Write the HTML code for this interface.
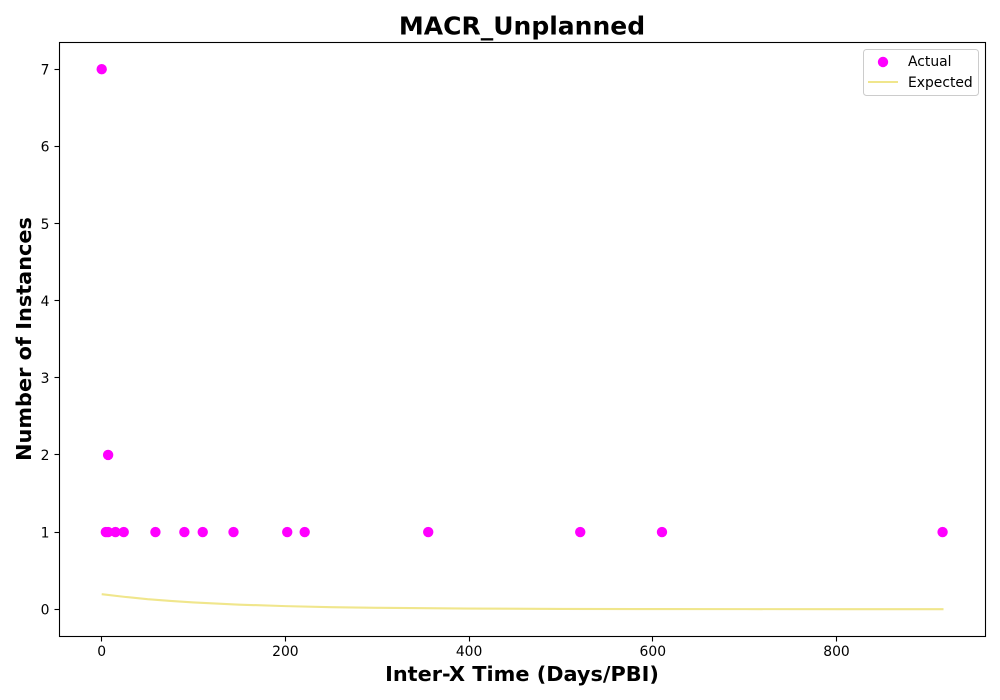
<!DOCTYPE html>
<html>
<head>
<meta charset="utf-8">
<title>MACR_Unplanned</title>
<style>
html,body{margin:0;padding:0;background:#fff;width:1000px;height:700px;overflow:hidden}
svg{display:block}
text{font-family:"DejaVu Sans",sans-serif;fill:#000}
</style>
</head>
<body>
<svg id="chart" width="1000" height="700" viewBox="0 0 1000 700" xmlns="http://www.w3.org/2000/svg"></svg>
<script>
const actualX = [0, 7, 4.5, 7, 15, 24, 58.5, 90, 110, 143.5, 202, 221, 355.5, 521, 610, 915.5];
const actualY = [7, 2, 1, 1, 1, 1, 1, 1, 1, 1, 1, 1, 1, 1, 1, 1];
const expectedX = [0, 25, 50, 75, 100, 150, 200, 250, 300, 400, 500, 600, 700, 800, 916.5];
const expectedY = [0.195, 0.16, 0.13, 0.107, 0.088, 0.059, 0.04, 0.026, 0.018, 0.008, 0.004, 0.002, 0.001, 0, 0];
const xTicks = [0, 200, 400, 600, 800];
const yTicks = [0, 1, 2, 3, 4, 5, 6, 7];

const NS = 'http://www.w3.org/2000/svg';
const svg = document.getElementById('chart');
const L = 59.5, R = 985.5, T = 42.5, B = 636.5;
const sx = v => 101.7 + v * 0.9185;
const sy = v => 609.2 - v * 77.14;

function mk(tag, attrs, text) {
  const e = document.createElementNS(NS, tag);
  for (const k in attrs) e.setAttribute(k, attrs[k]);
  if (text !== undefined) e.textContent = text;
  svg.appendChild(e);
  return e;
}

const plot = mk('rect', {x: L, y: T, width: R - L, height: B - T, fill: '#fff'});



const line = mk('polyline', {
  points: expectedX.map((x, i) => sx(x) + ',' + sy(expectedY[i])).join(' '),
  fill: 'none', stroke: '#f0e68c', 'stroke-width': 2.1
});



actualX.forEach((x, i) => {
  const c = mk('circle', {cx: sx(x), cy: sy(actualY[i]), r: 5.2, fill: '#ff00ff'});
  
  
});

const frame = mk('rect', {x: L, y: T, width: R - L, height: B - T, fill: 'none', stroke: '#000', 'stroke-width': 1.1});



xTicks.forEach(v => {
  const p = Math.floor(sx(v)) + 0.5;
  const t = mk('line', {x1: p, x2: p, y1: B, y2: B + 5, stroke: '#000', 'stroke-width': 1.1});
  
  
  const l = mk('text', {x: sx(v), y: 656, 'text-anchor': 'middle', 'font-size': 13.89}, String(v));
  
  
});

yTicks.forEach(v => {
  const p = Math.floor(sy(v)) + 0.5;
  const t = mk('line', {x1: L - 5, x2: L, y1: p, y2: p, stroke: '#000', 'stroke-width': 1.1});
  
  
  const l = mk('text', {x: 49.5, y: sy(v) + 5.3, 'text-anchor': 'end', 'font-size': 13.89}, String(v));
  
  
});

const title = mk('text', {x: 522, y: 34.5, 'text-anchor': 'middle', 'font-size': 25, 'font-weight': 'bold'}, 'MACR_Unplanned');



const xTitle = mk('text', {x: 522, y: 681, 'text-anchor': 'middle', 'font-size': 20.83, 'font-weight': 'bold'}, 'Inter-X Time (Days/PBI)');



const yTitle = mk('text', {x: 0, y: 0, transform: 'translate(31 339) rotate(-90)', 'text-anchor': 'middle', 'font-size': 20.83, 'font-weight': 'bold'}, 'Number of Instances');



const legendBox = mk('rect', {x: 863.5, y: 49.5, width: 115, height: 46, rx: 3, ry: 3, fill: '#fff', 'fill-opacity': 0.8, stroke: '#ccc', 'stroke-width': 1});



const legendDot = mk('circle', {cx: 883, cy: 62, r: 5.2, fill: '#ff00ff'});



const legendActual = mk('text', {x: 908, y: 66, 'font-size': 13.89}, 'Actual');



const legendLine = mk('line', {x1: 868, x2: 898, y1: 82, y2: 82, stroke: '#f0e68c', 'stroke-width': 2.1});



const legendExpected = mk('text', {x: 908, y: 87, 'font-size': 13.89}, 'Expected');


</script>
</body>
</html>
